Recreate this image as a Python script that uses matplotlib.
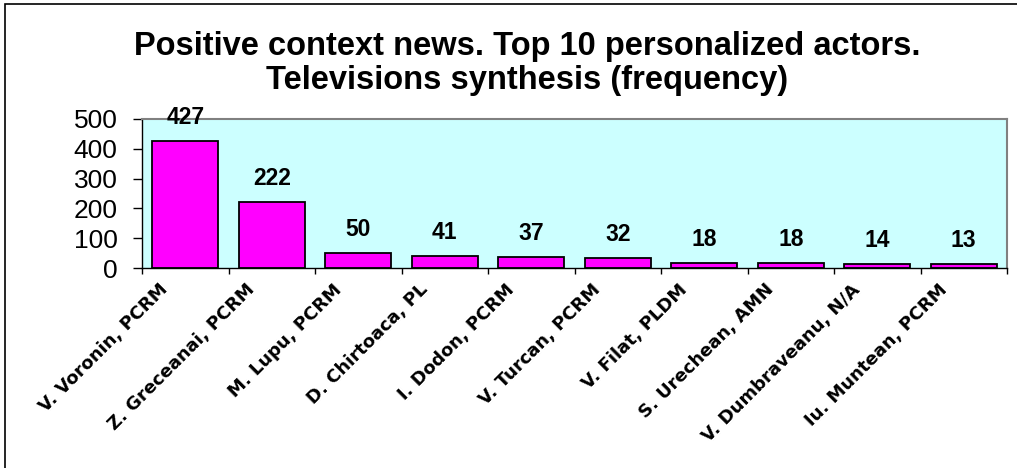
import matplotlib.pyplot as plt
from matplotlib.patches import Rectangle
from matplotlib.transforms import ScaledTranslation

# data
actors = ['V. Voronin, PCRM', 'Z. Greceanai, PCRM', 'M. Lupu, PCRM', 'D. Chirtoaca, PL',
          'I. Dodon, PCRM', 'V. Turcan, PCRM', 'V. Filat, PLDM', 'S. Urechean, AMN',
          'V. Dumbraveanu, N/A', 'Iu. Muntean, PCRM']
frequency = [427, 222, 50, 41, 37, 32, 18, 18, 14, 13]
yticks = [0, 100, 200, 300, 400, 500]

fig = plt.figure(figsize=(10.17, 4.68), dpi=100)
fig.patch.set_facecolor('white')

# outer chart frame (only top and left edges show in the reference)
fig.patches.append(Rectangle((5 / 1017, -0.1), 1.2, 1 - 4 / 468 + 0.1,
                             transform=fig.transFigure, fill=False,
                             edgecolor='black', linewidth=1.2))

ax = fig.add_axes([142 / 1017, 1 - 268 / 468, 865 / 1017, 149 / 468])
ax.set_facecolor('#CCFFFF')

x = range(len(actors))
ax.bar(x, frequency, width=0.76, color='#FF00FF', edgecolor='black', linewidth=1.3)

for xi, v in zip(x, frequency):
    ax.annotate(str(v), (xi, v), xytext=(0, 17), textcoords='offset points',
                ha='center', va='center', fontsize=16.5, fontweight='bold',
                family='Liberation Sans', annotation_clip=False)

ax.set_xlim(-0.5, len(actors) - 0.5)
ax.set_ylim(0, 500)
ax.set_yticks(yticks)
ax.set_yticklabels([str(t) for t in yticks], fontsize=19, family='Liberation Sans')
ax.tick_params(axis='y', direction='out', length=6.5, width=1, pad=11)

# ticks between categories, labels at centres
ax.set_xticks([i + 0.5 for i in range(-1, len(actors))], minor=True)
ax.set_xticks(list(x))
ax.set_xticklabels(actors, rotation=45, ha='right', va='top', rotation_mode='anchor',
                   fontsize=13, fontweight='bold', family='DejaVu Sans')
ax.tick_params(axis='x', which='major', length=0, pad=9)
ax.tick_params(axis='x', which='minor', direction='out', length=4, width=1)
shift = ScaledTranslation(-26 / 100, 0, fig.dpi_scale_trans)
for lbl in ax.get_xticklabels():
    lbl.set_transform(lbl.get_transform() + shift)

for side in ['top', 'right']:
    ax.spines[side].set_color('#808080')
    ax.spines[side].set_linewidth(1.5)
for side in ['bottom', 'left']:
    ax.spines[side].set_color('black')
    ax.spines[side].set_linewidth(1)

fig.text(0.518, 1 - 47 / 468, 'Positive context news. Top 10 personalized actors.',
         ha='center', va='center', fontsize=23.5, fontweight='bold', family='Liberation Sans')
fig.text(0.518, 1 - 80 / 468, 'Televisions synthesis (frequency)',
         ha='center', va='center', fontsize=23.5, fontweight='bold', family='Liberation Sans')

fig.savefig('out.png', dpi=100)
